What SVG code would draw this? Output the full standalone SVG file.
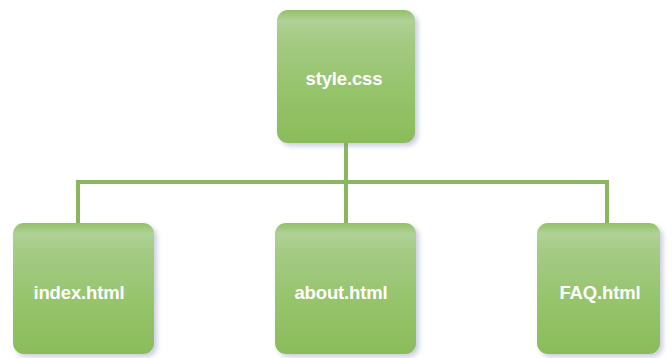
<svg xmlns="http://www.w3.org/2000/svg" width="672" height="358" viewBox="0 0 672 358">
  <style>
    .box { fill: url(#g); filter: url(#sh); }
    .lbl { font-family: "Liberation Sans", Arial, sans-serif; font-weight: bold; font-size: 18.5px; fill: #ffffff; text-anchor: middle; letter-spacing: -0.15px; }
    .conn { stroke: #8ab65e; stroke-width: 4; fill: none; }
  </style>
  <defs>
    <linearGradient id="g" x1="0" y1="0" x2="0" y2="1">
      <stop offset="0" stop-color="#92c066"/>
      <stop offset="0.08" stop-color="#b0d196"/>
      <stop offset="0.2" stop-color="#a6cb86"/>
      <stop offset="0.6" stop-color="#95c46b"/>
      <stop offset="1" stop-color="#8bbc5a"/>
    </linearGradient>
    <filter id="sh" x="-10%" y="-10%" width="125%" height="125%">
      <feDropShadow dx="3" dy="3" stdDeviation="2.5" flood-color="#8a90b8" flood-opacity="0.45"/>
    </filter>
  </defs>
  <rect width="672" height="358" fill="#ffffff"/>
  <g id="connectors">
    <path class="conn" d="M346 143 V182"/>
    <path class="conn" d="M78 223 V182 H607 V223"/>
    <path class="conn" d="M346 182 V223"/>
  </g>
  <g id="style-css">
    <rect class="box" x="277" y="10" width="138" height="133" rx="11"/>
    <text class="lbl" x="344" y="85">style.css</text>
  </g>
  <g id="index-html">
    <rect class="box" x="13" y="223" width="141" height="131" rx="11"/>
    <text class="lbl" x="79" y="299">index.html</text>
  </g>
  <g id="about-html">
    <rect class="box" x="275" y="223" width="141" height="131" rx="11"/>
    <text class="lbl" x="341" y="299">about.html</text>
  </g>
  <g id="faq-html">
    <rect class="box" x="537" y="223" width="123" height="131" rx="11"/>
    <text class="lbl" x="600" y="299">FAQ.html</text>
  </g>
</svg>
